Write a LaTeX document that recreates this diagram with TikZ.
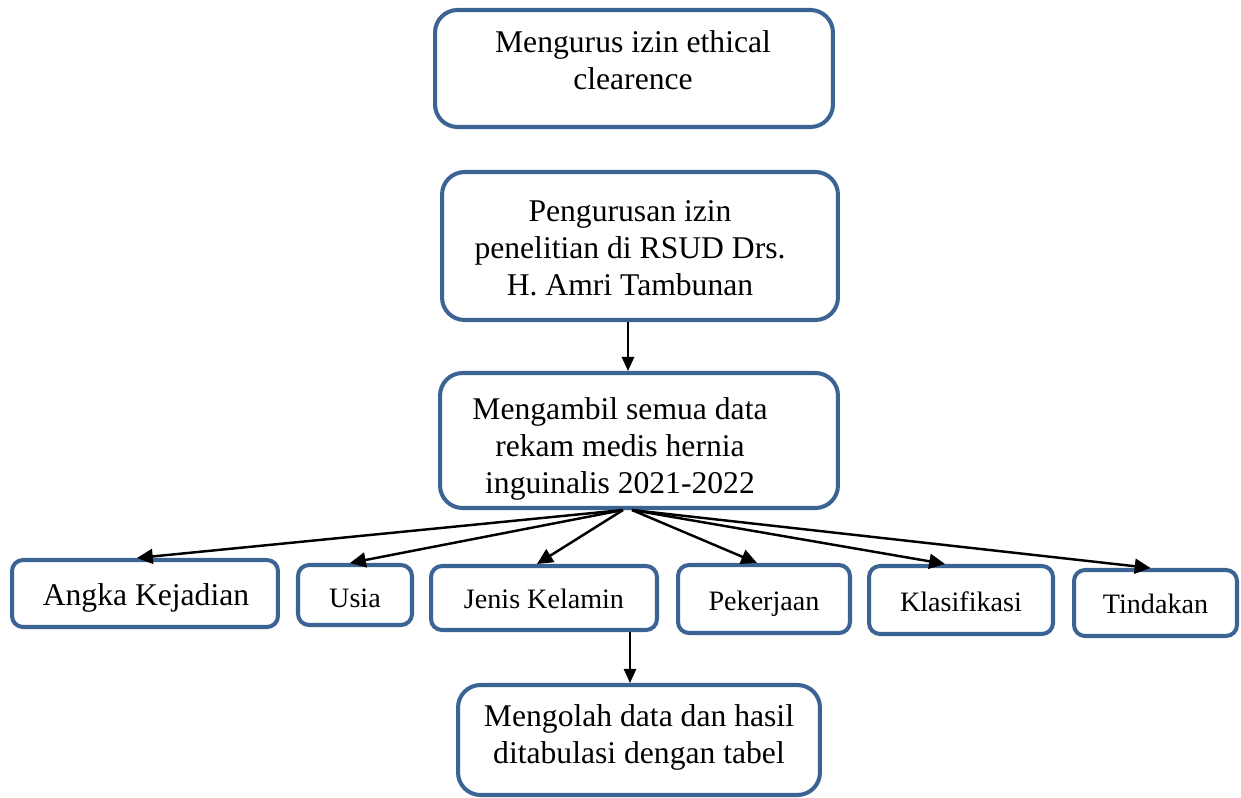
\documentclass[tikz,border=0pt]{standalone}
\usepackage{fontspec}
\setmainfont{Liberation Serif}
\usetikzlibrary{arrows.meta,calc}
\definecolor{boxblue}{RGB}{59,100,148}
\begin{document}
\begin{tikzpicture}[x=0.02cm,y=-0.02cm,
  box/.style={draw=boxblue, line width=2.3pt, rounded corners=0.45cm, fill=white, inner sep=0pt},
  sbox/.style={box, rounded corners=0.22cm},
  txt/.style={align=center, font=\fontsize{18}{21}\selectfont, inner sep=0pt, anchor=base},
  stxt/.style={font=\fontsize{16}{19}\selectfont, inner sep=0pt, anchor=base},
  arr/.style={line width=1.4pt, -{Triangle[length=9pt,width=8.5pt]}},
  varr/.style={line width=1pt, -{Triangle[length=8pt,width=7pt]}}]
\useasboundingbox (0,0) rectangle (1241,798);

% main boxes
\node[box, minimum width=7.96cm, minimum height=2.34cm] (b1) at (634,68.5) {};
\node[box, minimum width=7.92cm, minimum height=2.96cm] (b2) at (640,246) {};
\node[box, minimum width=7.96cm, minimum height=2.7cm] (b3) at (639,440.5) {};
\node[box, minimum width=7.24cm, minimum height=2.2cm] (bot) at (639,740) {};

\node[txt] (t1) at (633,89) {Mengurus izin ethical\\clearence};
\node[txt] (t2) at (630,295) {Pengurusan izin\\penelitian di RSUD Drs.\\H. Amri Tambunan};
\node[txt] (t3) at (620,493) {Mengambil semua data\\rekam medis hernia\\inguinalis 2021-2022};
\node[txt] (t4) at (639,763) {Mengolah data dan hasil\\ditabulasi dengan tabel};

% bottom row
\node[sbox, minimum width=5.32cm, minimum height=1.34cm] (angka) at (145,593.5) {};
\node[sbox, minimum width=2.28cm, minimum height=1.2cm] (usia) at (355,595) {};
\node[sbox, minimum width=4.52cm, minimum height=1.28cm] (jenis) at (544,598) {};
\node[sbox, minimum width=3.44cm, minimum height=1.36cm] (pek) at (764,599) {};
\node[sbox, minimum width=3.68cm, minimum height=1.36cm] (klas) at (961,600) {};
\node[sbox, minimum width=3.26cm, minimum height=1.32cm] (tind) at (1155.5,603) {};

\node[txt] (ta) at (146,605) {Angka Kejadian};
\node[stxt] (tu) at (355,607) {Usia};
\node[stxt] (tj) at (544,608) {Jenis Kelamin};
\node[stxt] (tp) at (764,610) {Pekerjaan};
\node[stxt] (tk) at (961,611) {Klasifikasi};
\node[stxt] (tt) at (1155.5,613) {Tindakan};

% connectors
\coordinate (fanL) at ($(b3.south)+(-16,0)$);
\coordinate (fanR) at ($(b3.south)+(-7,0)$);
\coordinate (s2) at ($(b2.south)+(-12,0)$);
\coordinate (sj) at ($(jenis.south)+(86,0)$);
\draw[varr] (s2) -- (s2 |- b3.north);
\draw[arr] (fanL) -- ($(angka.north)+(-8,0)$);
\draw[arr] (fanL) -- ($(usia.north)+(-5,0)$);
\draw[arr] (fanL) -- ($(jenis.north)+(-7,0)$);
\draw[arr] (fanR) -- ($(pek.north)+(-7,0)$);
\draw[arr] (fanR) -- ($(klas.north)+(-16,0)$);
\draw[arr] (fanR) -- ($(tind.north)+(-5,0)$);
\draw[varr] (sj) -- (sj |- bot.north);
\end{tikzpicture}
\end{document}
